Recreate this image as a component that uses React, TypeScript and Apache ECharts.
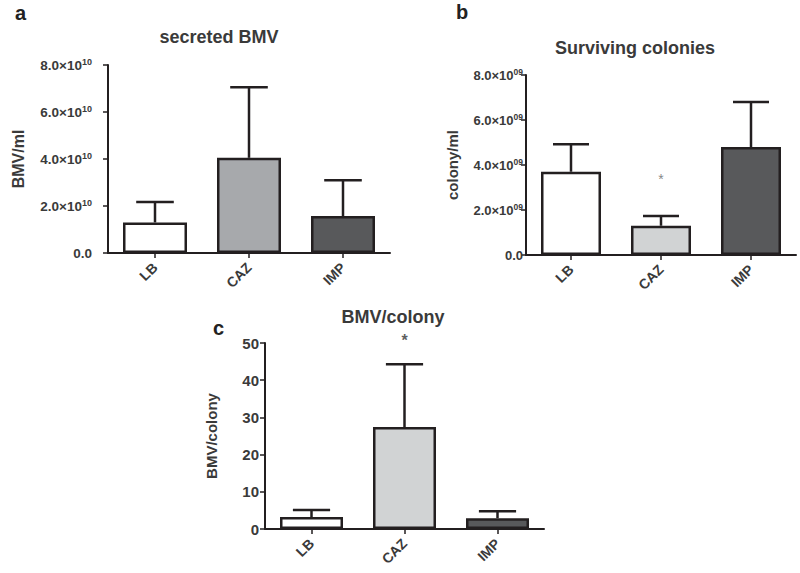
import React, { useEffect, useRef } from "react";
import * as echarts from "echarts";

const categories = ["LB", "CAZ", "IMP"];

// panel a: secreted BMV (BMV/ml)
const bmvMean = [1.3e10, 4.05e10, 1.57e10];
const bmvErr = [0.87e10, 3.0e10, 1.53e10];
const bmvTicks = { min: 0, max: 8e10, interval: 2e10, exp: "10" };

// panel b: surviving colonies (colony/ml)
const colonyMean = [3.7e9, 1.3e9, 4.8e9];
const colonyErr = [1.22e9, 0.43e9, 2.0e9];
const colonyTicks = { min: 0, max: 8e9, interval: 2e9, exp: "09" };
const colonyStar = [null, 3.4e9, null];

// panel c: BMV per colony
const ratioMean = [3.2, 27.4, 2.9];
const ratioErr = [1.9, 16.9, 1.9];
const ratioTicks = { min: 0, max: 50, interval: 10 };
const ratioStar = [null, 50.6, null];

const fillsA = ["#ffffff", "#a7a9ac", "#58595b"];
const fillsBC = ["#ffffff", "#d1d3d4", "#58595b"];

const INK = "#231f20";
const TXT = "#3a3a3a";
const FONT = "'Liberation Sans', Arial, Helvetica, sans-serif";

function sciFormatter(scale: number, exp: string) {
  return (v: number) => {
    if (v === 0) return "{m|0.0}";
    return `{m|${(v / scale).toFixed(1)}×10}{s|${exp}}`;
  };
}

function errorSeries(idx: number, mean: number[], err: number[], capFrac: number) {
  return {
    type: "custom",
    xAxisIndex: idx,
    yAxisIndex: idx,
    z: 4,
    data: categories.map((_, i) => [i, mean[i], err[i]]),
    renderItem: (params: any, api: any) => {
      const xi = api.value(0);
      const m = api.value(1);
      const e = api.value(2);
      const p0 = api.coord([xi, m]);
      const p1 = api.coord([xi, m + e]);
      const w = api.size([1, 0])[0] * capFrac;
      const style = { stroke: INK, lineWidth: 2.5 };
      return {
        type: "group",
        children: [
          { type: "line", shape: { x1: p0[0], y1: p0[1], x2: p1[0], y2: p1[1] }, style },
          { type: "line", shape: { x1: p1[0] - w, y1: p1[1], x2: p1[0] + w, y2: p1[1] }, style },
        ],
      };
    },
  };
}

function barSeries(idx: number, mean: number[], fills: string[], width: number) {
  return {
    type: "bar",
    xAxisIndex: idx,
    yAxisIndex: idx,
    barWidth: width,
    z: 3,
    data: mean.map((v, i) => ({
      value: v,
      itemStyle: { color: fills[i], borderColor: INK, borderWidth: 2.5 },
    })),
  };
}

function xAxis(idx: number, fontSize: number) {
  return {
    type: "category",
    gridIndex: idx,
    data: categories,
    axisLine: { lineStyle: { color: INK, width: 2 } },
    axisTick: { show: true, alignWithLabel: true, length: 5, lineStyle: { color: INK, width: 1.5 } },
    axisLabel: {
      rotate: 45,
      margin: 12,
      color: TXT,
      fontWeight: "bold",
      fontSize,
      fontFamily: FONT,
    },
    splitLine: { show: false },
  };
}

export default function App() {
  const ref = useRef<HTMLDivElement>(null);
  useEffect(() => {
    document.body.style.margin = "0";
    const chart = echarts.init(ref.current!, null, { renderer: "svg" });
    const yBase = (idx: number, name: string, gap: number, nameSize: number) => ({
      type: "value",
      gridIndex: idx,
      name,
      nameLocation: "middle",
      nameGap: gap,
      nameTextStyle: { color: TXT, fontWeight: "bold", fontSize: nameSize, fontFamily: FONT },
      axisLine: { show: true, lineStyle: { color: INK, width: 2 } },
      axisTick: { show: true, length: 5, lineStyle: { color: INK, width: 1.5 } },
      splitLine: { show: false },
    });
    const rich = (m: number, s: number) => ({
      m: { fontSize: m, fontWeight: "bold", color: TXT, fontFamily: FONT },
      s: { fontSize: s, fontWeight: "bold", color: TXT, fontFamily: FONT, verticalAlign: "top", padding: [0, 0, 6, 0] },
    });
    const option: any = {
      animation: false,
      backgroundColor: "#ffffff",
      grid: [
        { left: 108, top: 65, width: 282, height: 188 },
        { left: 526, top: 75, width: 270, height: 180 },
        { left: 265, top: 343, width: 279, height: 186 },
      ],
      xAxis: [xAxis(0, 14), xAxis(1, 14), xAxis(2, 14)],
      yAxis: [
        {
          ...yBase(0, "BMV/ml", 82, 16),
          min: bmvTicks.min,
          max: bmvTicks.max,
          interval: bmvTicks.interval,
          axisLabel: { margin: 16, formatter: sciFormatter(1e10, bmvTicks.exp), rich: rich(13.5, 9) },
        },
        {
          ...yBase(1, "colony/ml", 66, 15),
          min: colonyTicks.min,
          max: colonyTicks.max,
          interval: colonyTicks.interval,
          axisLabel: { margin: 3, formatter: sciFormatter(1e9, colonyTicks.exp), rich: rich(13, 8.5) },
        },
        {
          ...yBase(2, "BMV/colony", 46, 15),
          min: ratioTicks.min,
          max: ratioTicks.max,
          interval: ratioTicks.interval,
          axisLabel: { margin: 6, color: TXT, fontWeight: "bold", fontSize: 15, fontFamily: FONT },
        },
      ],
      series: [
        barSeries(0, bmvMean, fillsA, 64),
        errorSeries(0, bmvMean, bmvErr, 0.2),
        barSeries(1, colonyMean, fillsBC, 60),
        errorSeries(1, colonyMean, colonyErr, 0.2),
        barSeries(2, ratioMean, fillsBC, 63),
        errorSeries(2, ratioMean, ratioErr, 0.2),
        {
          type: "scatter",
          xAxisIndex: 1,
          yAxisIndex: 1,
          symbolSize: 1,
          itemStyle: { color: "transparent" },
          clip: false,
          data: colonyStar.map((v, i) => (v == null ? null : [i, v])).filter(Boolean),
          label: { show: true, position: "inside", formatter: "*", color: "#666", fontSize: 14, fontFamily: FONT },
        },
        {
          type: "scatter",
          xAxisIndex: 2,
          yAxisIndex: 2,
          symbolSize: 1,
          itemStyle: { color: "transparent" },
          clip: false,
          data: ratioStar.map((v, i) => (v == null ? null : [i, v])).filter(Boolean),
          label: { show: true, position: "inside", formatter: "*", color: "#333", fontSize: 16, fontWeight: "bold", fontFamily: FONT },
        },
      ],
      graphic: [
        { type: "text", left: 15, top: 3, style: { text: "a", fontSize: 20, fontWeight: "bold", fill: "#222", fontFamily: FONT } },
        { type: "text", left: 456, top: 2, style: { text: "b", fontSize: 20, fontWeight: "bold", fill: "#222", fontFamily: FONT } },
        { type: "text", left: 213, top: 318, style: { text: "c", fontSize: 20, fontWeight: "bold", fill: "#222", fontFamily: FONT } },
        { type: "text", x: 219, y: 37, style: { text: "secreted BMV", fontSize: 18, fontWeight: "bold", fill: TXT, fontFamily: FONT, align: "center", verticalAlign: "middle" } },
        { type: "text", x: 635, y: 48, style: { text: "Surviving colonies", fontSize: 18, fontWeight: "bold", fill: TXT, fontFamily: FONT, align: "center", verticalAlign: "middle" } },
        { type: "text", x: 393, y: 317, style: { text: "BMV/colony", fontSize: 18, fontWeight: "bold", fill: TXT, fontFamily: FONT, align: "center", verticalAlign: "middle" } },
      ],
    };
    chart.setOption(option);
    return () => chart.dispose();
  }, []);
  return <div ref={ref} style={{ width: 800, height: 573 }} />;
}
